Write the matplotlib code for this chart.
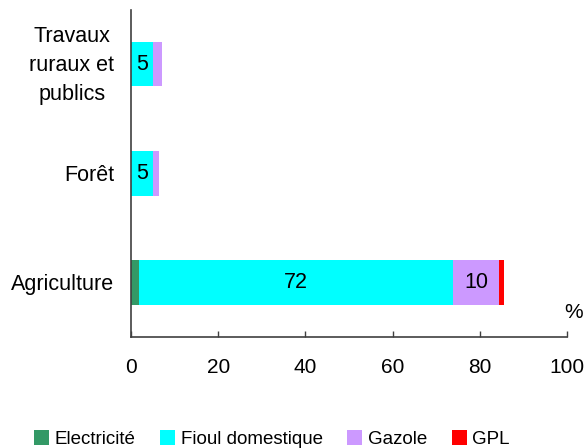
import matplotlib
matplotlib.use("Agg")
import matplotlib.pyplot as plt
from matplotlib.patches import Patch
from matplotlib.transforms import ScaledTranslation

plt.rcParams['font.family'] = ['Liberation Sans', 'DejaVu Sans']

categories = ["Agriculture", "Forêt", "Travaux\nruraux et\npublics"]
series_names = ["Electricité", "Fioul domestique", "Gazole", "GPL"]
electricite = [1.8, 0.0, 0.0]
fioul = [72.1, 5.1, 5.1]
gazole = [10.5, 1.3, 2.0]
gpl = [1.2, 0.0, 0.0]
fioul_labels = ["72", "5", "5"]
gazole_labels = ["10", "", ""]
xticks = [0, 20, 40, 60, 80, 100]
colors = ["#339966", "#00FFFF", "#CC99FF", "#FF0000"]

fig = plt.figure(figsize=(5.86, 4.48), dpi=100)
ax = fig.add_axes([131/586, 1 - 337/448, (567-131)/586, (337-9.5)/448])

y = list(range(len(categories)))
h = 0.41
left = [0.0] * 3
containers = []
for vals, col in zip([electricite, fioul, gazole, gpl], colors):
    c = ax.barh(y, vals, height=h, left=left, color=col, edgecolor='none')
    containers.append(c)
    left = [a + b for a, b in zip(left, vals)]

ax.bar_label(containers[1], labels=fioul_labels, label_type='center', fontsize=15.5)
ax.bar_label(containers[2], labels=gazole_labels, label_type='center', fontsize=15.5)

ax.set_xlim(0, 100)
ax.set_ylim(-0.5, 2.5)
ax.set_yticks(y)
ax.set_yticklabels(categories, fontsize=15.5, multialignment='center', linespacing=1.5)
ax.tick_params(axis='y', length=0, pad=12)
ax.set_xticks(xticks)
ax.set_xticklabels([str(t) for t in xticks], fontsize=15)
ax.tick_params(axis='x', direction='in', length=4, width=1, color='#404040', pad=15)

lbl = ax.get_yticklabels()[2]
lbl.set_transform(lbl.get_transform() + ScaledTranslation(0, 5/100, fig.dpi_scale_trans))

for s in ['top', 'right']:
    ax.spines[s].set_visible(False)
for s in ['left', 'bottom']:
    ax.spines[s].set_color('#404040')
    ax.spines[s].set_linewidth(1.2)

ax.text(101.5, -0.28, "%", fontsize=15, ha='center', va='center', clip_on=False)

handles = [Patch(facecolor=c, edgecolor='none') for c in colors]
fig.legend(handles, series_names, loc='center', bbox_to_anchor=(272/586, 1 - 439/448),
           ncol=4, frameon=False, fontsize=13.5, handlelength=0.8, handleheight=0.8,
           handletextpad=0.3, columnspacing=1.3, borderaxespad=0)

fig.savefig("out.png", dpi=100)
